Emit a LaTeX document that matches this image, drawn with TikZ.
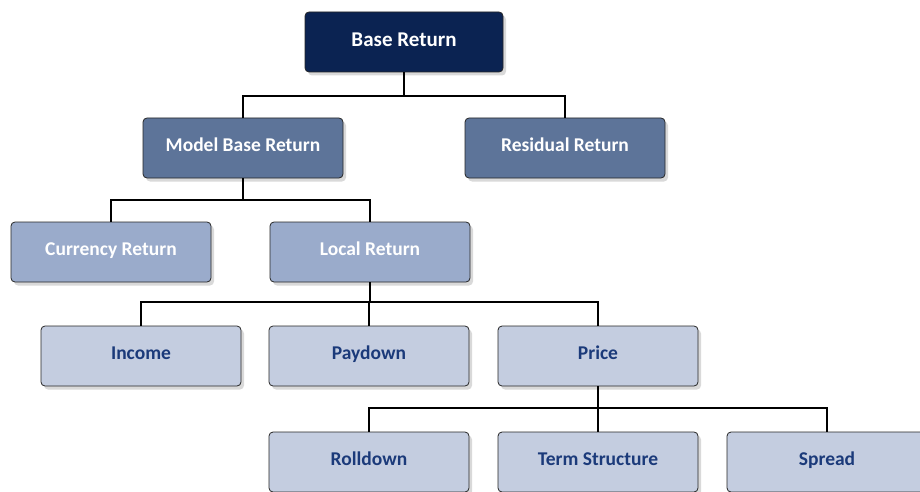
\documentclass[tikz,border=0pt]{standalone}
\usepackage{fontspec}
\setmainfont{Carlito}
\usetikzlibrary{shadows}
\definecolor{navy}{HTML}{0B2352}
\definecolor{slate}{HTML}{5D7499}
\definecolor{steel}{HTML}{9AABCB}
\definecolor{mist}{HTML}{C4CDE0}
\definecolor{inkblue}{HTML}{1B3A7A}
\tikzset{
  box/.style={draw=black!85, line width=0.8pt, rounded corners=4pt,
    minimum width=200pt, minimum height=60pt, text height=10pt, text depth=3pt,
    font=\fontsize{19.5}{22}\selectfont\bfseries,
    drop shadow={opacity=0.3, shadow xshift=3pt, shadow yshift=-3.5pt}},
  top/.style={box, fill=navy, text=white},
  mid/.style={box, fill=slate, text=white},
  low/.style={box, fill=steel, text=white},
  leaf/.style={box, fill=mist, text=inkblue},
  link/.style={line width=1.3pt, black}
}
\begin{document}
\begin{tikzpicture}[x=1pt, y=-1pt]
  \useasboundingbox (0,0) rectangle (920,492);
  \node [top, minimum width=198pt, text height=13.5pt, text depth=4pt,
    font=\fontsize{21}{24}\selectfont\bfseries] (base) at (404,42) {Base Return};
  \node [mid] (model) at (243,148) {Model Base Return};
  \node [mid] (resid) at (565,148) {Residual Return};
  \node [low] (curr) at (111,252) {Currency Return};
  \node [low] (local) at (370,252) {Local Return};
  \node [leaf] (income) at (141,356) {Income};
  \node [leaf] (paydown) at (369,356) {Paydown};
  \node [leaf] (price) at (598,356) {Price};
  \node [leaf] (roll) at (369,462) {Rolldown};
  \node [leaf] (term) at (598,462) {Term Structure};
  \node [leaf] (spread) at (827,462) {Spread};
  % branches
  \coordinate (j1) at (404,96);
  \coordinate (j2) at (243,200);
  \coordinate (j3) at (370,302);
  \coordinate (j4) at (598,408);
  \draw [link] (base.south) -- (j1) -| (model.north);
  \draw [link] (j1) -| (resid.north);
  \draw [link] (model.south) -- (j2) -| (curr.north);
  \draw [link] (j2) -| (local.north);
  \draw [link] (local.south) -- (j3) -| (income.north);
  \draw [link] (j3) -| (price.north);
  \draw [link] (paydown.north) -- (paydown.north |- j3);
  \draw [link] (price.south) -- (j4) -| (roll.north);
  \draw [link] (j4) -| (spread.north);
  \draw [link] (term.north) -- (j4);
\end{tikzpicture}
\end{document}
